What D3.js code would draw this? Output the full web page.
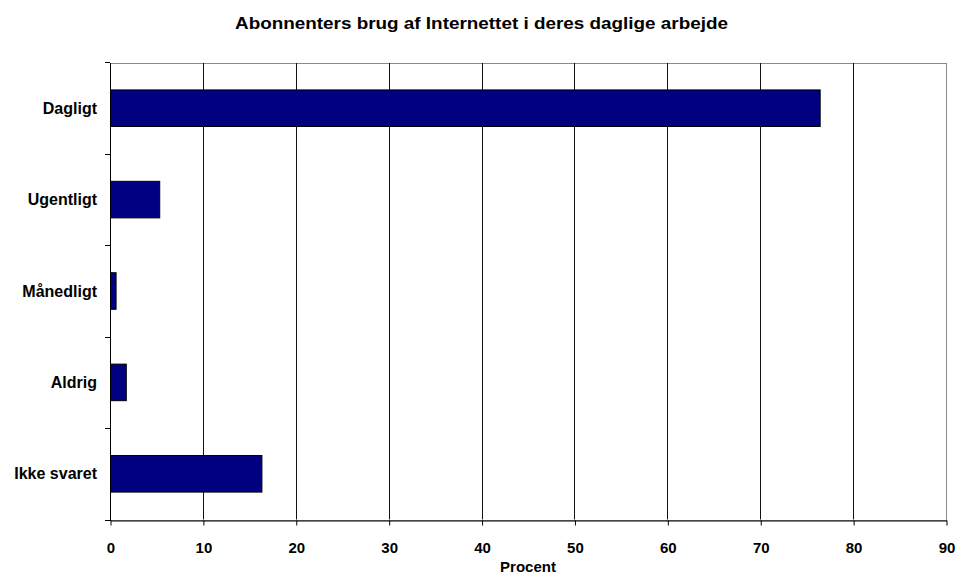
<!DOCTYPE html>
<html>
<head>
<meta charset="utf-8">
<script src="https://cdn.jsdelivr.net/npm/d3@7"></script>
<style>
  html, body { margin: 0; padding: 0; background: #fff; }
  svg { display: block; }
  text { font-family: "Liberation Sans", Arial, sans-serif; font-weight: bold; fill: #000; }
</style>
</head>
<body>
<script>
const categories = ["Dagligt", "Ugentligt", "Månedligt", "Aldrig", "Ikke svaret"];
const values = [76.4, 5.3, 0.6, 1.7, 16.3];
const xTicks = [0, 10, 20, 30, 40, 50, 60, 70, 80, 90];
const titleText = "Abonnenters brug af Internettet i deres daglige arbejde";
const xAxisTitle = "Procent";

(function () {
const W = 956, H = 576;
const pLeft = 110, pRight = 946, pTop = 62.5, pBottom = 519.5;

const svg = d3.select("body").append("svg").attr("width", W).attr("height", H);

const x = d3.scaleLinear().domain([0, 90]).range([pLeft, pRight]);
const y = d3.scaleBand().domain(categories).range([pTop, pBottom]).paddingInner(0.6).paddingOuter(0.3);

// plot border (gray top/right)
svg.append("rect")
  .attr("x", pLeft + 0.5).attr("y", Math.round(pTop) + 0.5)
  .attr("width", pRight - pLeft).attr("height", pBottom - pTop)
  .attr("fill", "none").attr("stroke", "#8a8a8a").attr("stroke-width", 1);

// gridlines
svg.append("g").selectAll("line").data(xTicks.filter(d => d > 0 && d < 90)).join("line")
  .attr("x1", d => Math.round(x(d)) + 0.5).attr("x2", d => Math.round(x(d)) + 0.5)
  .attr("y1", Math.round(pTop)).attr("y2", pBottom)
  .attr("stroke", "#111").attr("stroke-width", 1);

// bars
svg.append("g").selectAll("rect").data(values).join("rect")
  .attr("x", x(0) + 0.5)
  .attr("y", (d, i) => y(categories[i]))
  .attr("width", d => x(d) - x(0))
  .attr("height", y.bandwidth())
  .attr("fill", "#000080").attr("stroke", "#000").attr("stroke-width", 1);

// x axis
const xAxis = d3.axisBottom(x).tickValues(xTicks).tickSize(5).tickSizeOuter(0).tickFormat(d3.format("d"));
const gx = svg.append("g").attr("transform", `translate(0.5,${Math.round(pBottom) + 0.5})`).call(xAxis);
gx.select(".domain").attr("stroke", "#000");
gx.selectAll(".tick line").attr("stroke", "#000");
gx.selectAll(".tick text").attr("font-size", 15).attr("dy", 0).attr("y", 32)
  .style("font-family", "Liberation Sans, Arial, sans-serif").style("font-weight", "bold");

// y axis with category boundary ticks
const gy = svg.append("g");
gy.append("line").attr("x1", pLeft + 0.5).attr("x2", pLeft + 0.5)
  .attr("y1", Math.round(pTop)).attr("y2", Math.round(pBottom) + 1).attr("stroke", "#000");
const boundaries = categories.map(c => y(c) - y.step() * 0.3).concat([pBottom]);
gy.selectAll("line.tk").data(boundaries).join("line").attr("class", "tk")
  .attr("x1", pLeft - 5).attr("x2", pLeft)
  .attr("y1", d => Math.round(d) + 0.5).attr("y2", d => Math.round(d) + 0.5)
  .attr("stroke", "#000");
gy.selectAll("text").data(categories).join("text")
  .attr("x", 97).attr("y", d => y(d) + y.bandwidth() / 2)
  .attr("dy", "0.35em").attr("text-anchor", "end").attr("font-size", 16)
  .text(d => d);

// titles
svg.append("text").attr("x", 481.5).attr("y", 29).attr("text-anchor", "middle")
  .attr("font-size", 16.5).attr("textLength", 493).attr("lengthAdjust", "spacingAndGlyphs")
  .text(titleText);
svg.append("text").attr("x", 528).attr("y", 572).attr("text-anchor", "middle")
  .attr("font-size", 15).text(xAxisTitle);
})();
</script>
</body>
</html>
